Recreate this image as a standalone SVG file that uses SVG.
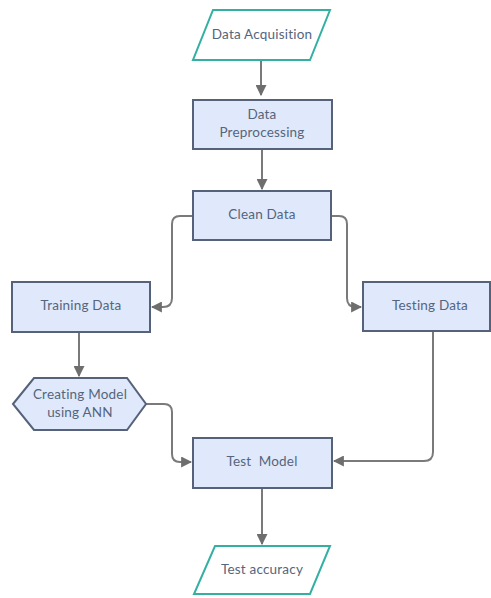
<svg xmlns="http://www.w3.org/2000/svg" width="491" height="598" viewBox="0 0 491 598">
<defs>
<style>
.box{fill:#dfe9fb;stroke:#56627a;stroke-width:2}
.io{fill:#ffffff;stroke:#33b0a2;stroke-width:2}
.t{font-family:Lato,"Liberation Sans",sans-serif;font-size:13.5px;letter-spacing:0.2px;fill:#55657d;text-anchor:middle;dominant-baseline:middle;white-space:pre}
.c{fill:none;stroke:#7a7a7a;stroke-width:2}
</style>
<marker id="ah" viewBox="0 0 10 10" refX="9" refY="5" markerWidth="5.5" markerHeight="5.5" orient="auto" markerUnits="strokeWidth">
<path d="M0,0 L10,5 L0,10 z" fill="#6e6e6e"/>
</marker>
</defs>
<rect width="491" height="598" fill="#ffffff"/>
<g id="connectors">
<path class="c" d="M261,61 V95" marker-end="url(#ah)"/>
<path class="c" d="M262,150 V189" marker-end="url(#ah)"/>
<path class="c" d="M193,216 H180 Q172,216 172,224 V298 Q172,307 163,307 H152" marker-end="url(#ah)"/>
<path class="c" d="M331,216 H339 Q347,216 347,224 V298 Q347,307 356,307 H361" marker-end="url(#ah)"/>
<path class="c" d="M79,333 V376" marker-end="url(#ah)"/>
<path class="c" d="M146,404 H164 Q172,404 172,412 V454 Q172,462 180,462 H191" marker-end="url(#ah)"/>
<path class="c" d="M433,332 V452 Q433,461 424,461 H334" marker-end="url(#ah)"/>
<path class="c" d="M262,489 V544" marker-end="url(#ah)"/>
</g>
<g id="data-acquisition">
<polygon class="io" points="213,10 330,10 310,60 193,60"/>
<text class="t" x="262" y="36">Data Acquisition</text>
</g>
<g id="data-preprocessing">
<rect class="box" x="193" y="100" width="139" height="49"/>
<text class="t" x="262" y="116">Data</text>
<text class="t" x="262" y="134">Preprocessing</text>
</g>
<g id="clean-data">
<rect class="box" x="193" y="191" width="138" height="49"/>
<text class="t" x="262" y="216">Clean Data</text>
</g>
<g id="training-data">
<rect class="box" x="12" y="282" width="138" height="50"/>
<text class="t" x="81" y="307">Training Data</text>
</g>
<g id="testing-data">
<rect class="box" x="363" y="282" width="127" height="49"/>
<text class="t" x="430" y="307">Testing Data</text>
</g>
<g id="creating-model">
<polygon class="box" points="13,404 34,378 127,378 146,404 127,430 34,430"/>
<text class="t" x="80" y="396">Creating Model</text>
<text class="t" x="80" y="414">using ANN</text>
</g>
<g id="test-model">
<rect class="box" x="193" y="438" width="139" height="50"/>
<text class="t" x="262" y="463">Test  Model</text>
</g>
<g id="test-accuracy">
<polygon class="io" points="215,546 330,546 310,594 194,594"/>
<text class="t" x="262" y="571">Test accuracy</text>
</g>
</svg>
